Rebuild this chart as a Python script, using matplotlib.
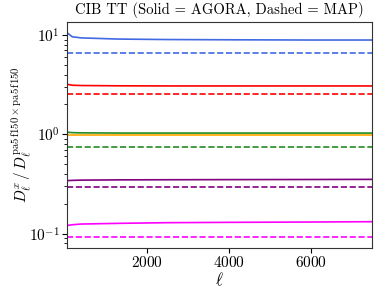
import matplotlib
matplotlib.use("Agg")
import matplotlib.pyplot as plt

plt.rcParams['font.family'] = 'serif'
plt.rcParams['font.serif'] = ['cmr10']
plt.rcParams['mathtext.fontset'] = 'cm'
plt.rcParams['axes.formatter.use_mathtext'] = True

# multipoles where the curves are sampled
ell = [60, 180, 400, 1300, 2500, 4000, 6000, 7500]

# AGORA (solid) ratios
agora_blue = [10.5, 9.6, 9.35, 9.1, 9.0, 8.95, 8.9, 8.9]
agora_red = [3.19, 3.12, 3.10, 3.08, 3.07, 3.07, 3.07, 3.07]
agora_green = [1.05, 1.04, 1.035, 1.03, 1.03, 1.03, 1.03, 1.03]
agora_orange = [0.985, 0.985, 0.985, 0.985, 0.985, 0.985, 0.985, 0.985]
agora_purple = [0.342, 0.344, 0.346, 0.348, 0.349, 0.35, 0.351, 0.352]
agora_magenta = [0.121, 0.123, 0.125, 0.127, 0.129, 0.130, 0.131, 0.132]

# MAP (dashed) ratios
map_blue = 6.6
map_red = 2.57
map_green = 0.745
map_purple = 0.295
map_magenta = 0.092

colors = ['royalblue', 'red', 'forestgreen', 'orange', 'purple', 'magenta']

fig, ax = plt.subplots(figsize=(3.78, 2.94), dpi=100)
solids = [agora_blue, agora_red, agora_green, agora_orange, agora_purple, agora_magenta]
for vals, c in zip(solids, colors):
    ax.plot(ell, vals, color=c, lw=1.2)

dashed = [(map_blue, 'royalblue'), (map_red, 'red'), (map_green, 'forestgreen'),
          (map_purple, 'purple'), (map_magenta, 'magenta')]
for v, c in dashed:
    ax.plot([ell[0], ell[-1]], [v, v], color=c, lw=1.2, ls='--')

ax.set_yscale('log')
ax.set_xlim(60, 7500)
ax.set_ylim(0.072, 13.5)
ax.set_xticks([2000, 4000, 6000])
ax.tick_params(labelsize=11, pad=2)
for s in ax.spines.values():
    s.set_color('#333333')
ax.set_xlabel(r'$\ell$', fontsize=12, labelpad=0)
ax.set_ylabel(r'$D_\ell^x\,/\,D_\ell^{\rm pa5\,f150\times pa5\,f150}$', fontsize=11)
ax.yaxis.set_label_coords(-0.11, 0.5)
ax.set_title('CIB TT (Solid = AGORA, Dashed = MAP)', fontsize=10.5)
fig.subplots_adjust(left=0.178, right=0.984, top=0.925, bottom=0.157)
fig.savefig('out.png', dpi=100)
